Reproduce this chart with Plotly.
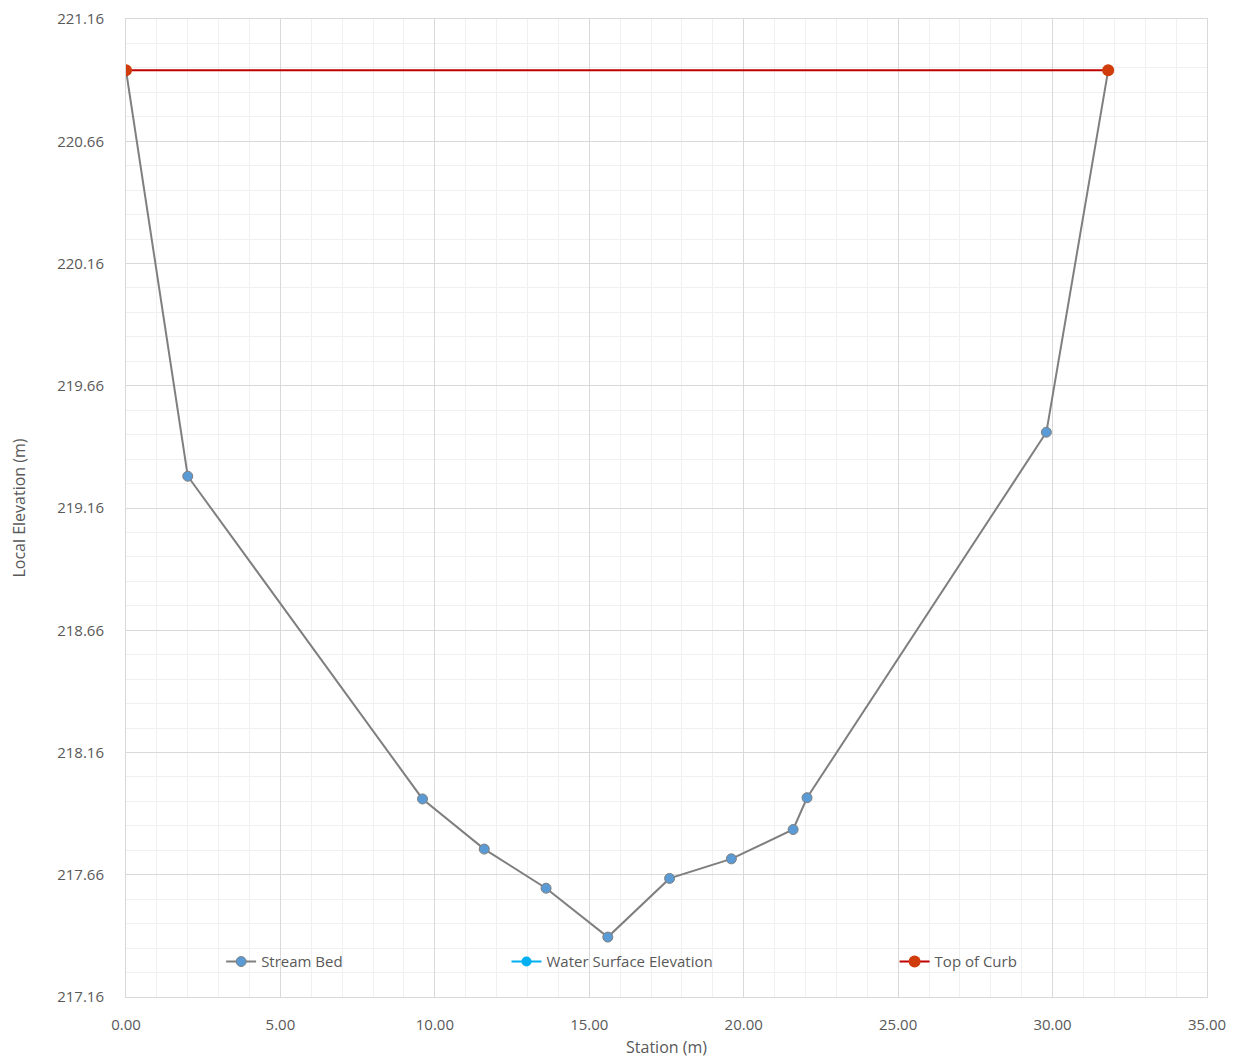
import plotly.graph_objects as go

# Data
bed_station = [0.0, 2.0, 9.6, 11.6, 13.6, 15.6, 17.6, 19.6, 21.6, 22.05, 29.8, 31.8]
bed_elev = [220.95, 219.29, 217.97, 217.765, 217.605, 217.405, 217.645, 217.725, 217.845, 217.975, 219.47, 220.95]
curb_station = [0.0, 31.8]
curb_elev = [220.95, 220.95]
wse_station = []
wse_elev = []

font_family = "Open Sans, Liberation Sans, Arial"
tick_color = "#595959"

fig = go.Figure()
fig.add_trace(go.Scatter(
    x=bed_station, y=bed_elev, mode="lines+markers", name="Stream Bed",
    line=dict(color="#7f7f7f", width=2),
    marker=dict(color="#5b9bd5", size=10, line=dict(color="#7f7f7f", width=1)),
    legend="legend", showlegend=True,
))
fig.add_trace(go.Scatter(
    x=wse_station if wse_station else [None], y=wse_elev if wse_elev else [None],
    mode="lines+markers", name="Water Surface Elevation",
    line=dict(color="#00b0f0", width=2),
    marker=dict(color="#00b0f0", size=10),
    legend="legend2", showlegend=True,
))
fig.add_trace(go.Scatter(
    x=curb_station, y=curb_elev, mode="lines+markers", name="Top of Curb",
    line=dict(color="#c00000", width=2),
    marker=dict(color="#d03c0c", size=12),
    legend="legend3", showlegend=True,
))

leg_common = dict(orientation="h", yanchor="middle", y=0.036, xanchor="left",
                  bgcolor="rgba(0,0,0,0)", font=dict(family=font_family, size=15, color=tick_color),
                  itemwidth=30)

fig.update_layout(
    width=1230, height=1055,
    margin=dict(l=118, r=31, t=11, b=66),
    paper_bgcolor="white", plot_bgcolor="white",
    showlegend=True,
    font=dict(family=font_family, color=tick_color, size=14),
    legend=dict(x=0.088, **leg_common),
    legend2=dict(x=0.352, **leg_common),
    legend3=dict(x=0.711, **leg_common),
    xaxis=dict(
        range=[0, 35], tick0=0, dtick=5, tickformat=".2f", automargin=False,
        showgrid=True, gridcolor="#d9d9d9", gridwidth=1,
        minor=dict(dtick=1, showgrid=True, gridcolor="#f0f0f0", gridwidth=1),
        showline=True, linecolor="#d9d9d9", mirror=True, zeroline=False,
        ticks="", tickfont=dict(size=15, color=tick_color), ticklabelstandoff=14,
        title=dict(text="Station (m)", font=dict(size=16, color=tick_color), standoff=8),
    ),
    yaxis=dict(
        range=[217.16, 221.16], tick0=217.16, dtick=0.5, tickformat=".2f", automargin=False,
        showgrid=True, gridcolor="#d9d9d9", gridwidth=1,
        minor=dict(tick0=217.16, dtick=0.1, showgrid=True, gridcolor="#f0f0f0", gridwidth=1),
        showline=True, linecolor="#d9d9d9", mirror=True, zeroline=False,
        ticks="", tickfont=dict(size=15, color=tick_color), ticklabelstandoff=18,
        title=dict(text="Local Elevation (m)", font=dict(size=16, color=tick_color), standoff=29),
    ),
)

fig.write_html("out.html")
